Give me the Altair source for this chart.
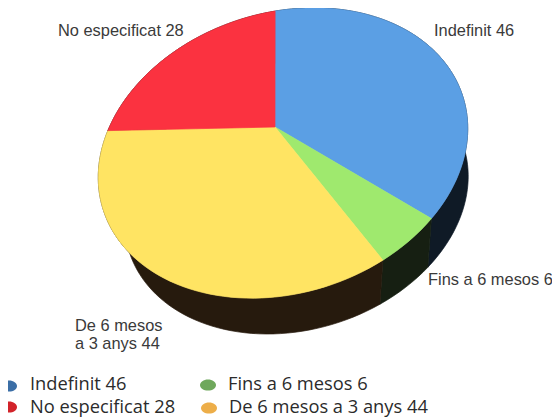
import math
import altair as alt
import pandas as pd

W, H = 544, 409

# chart values
categories = ["Indefinit", "Fins a 6 mesos", "De 6 mesos a 3 anys", "No especificat"]
values = [46, 6, 44, 28]
top_colors = ["#5b9fe4", "#9fe96e", "#ffe463", "#fb3240"]
side_colors = ["#0f1a26", "#161f12", "#261a0d", "#201010"]
legend_colors = ["#3b6ea6", "#6fa85c", "#edae49", "#d2232a"]

# perspective of the pie (page pixels minus the 8px margin)
cx, cy = 283 - 8, 153 - 8
m11, m21, m22 = 184.5, -24.4, 142.9
ex, ey, r = -0.2237, -0.976, 0.194
lx, ly, ls = 296.4 - 8, 199 - 8, 0.93
start = 12.7
lower_shift = 3.0


def rim(theta):
    zp, zq = math.cos(theta), math.sin(theta)
    d = 1 + r * zp
    wp = (zp + r) / d
    wq = zq * math.sqrt(1 - r * r) / d
    wx = wp * ex + wq * (-ey)
    wy = wp * ey + wq * ex
    dx = m11 * wx
    dy = m21 * wx + m22 * wy
    return (cx + dx, cy + dy), (lx + ls * dx, ly + ls * dy)


top_rows, side_rows = [], []
total = sum(values)
a = start
for cat, v, tc, sc in zip(categories, values, top_colors, side_colors):
    sweep = v / total * 360
    n = max(2, int(sweep / 2))
    angles = [math.radians(a + sweep * i / n) for i in range(n + 1)]
    upper = [rim(t)[0] for t in angles]
    lower = [rim(t + math.radians(lower_shift))[1] for t in angles]
    apex = (cx + m11 * (r * ex), cy + m21 * (r * ex) + m22 * (r * ey))
    poly = [apex] + upper + [apex]
    for i, (x, y) in enumerate(poly):
        top_rows.append(dict(cat=cat, i=i, x=x, y=y, c=tc))
    poly = upper + lower[::-1] + [upper[0]]
    for i, (x, y) in enumerate(poly):
        side_rows.append(dict(cat=cat, i=i, x=x, y=y, c=sc))
    a += sweep

xs = alt.X("x:Q", axis=None, scale=alt.Scale(domain=[0, W], range=[0, W]))
ys = alt.Y("y:Q", axis=None, scale=alt.Scale(domain=[0, H], range=[0, H]))


def faces(rows):
    return alt.Chart(pd.DataFrame(rows)).mark_line(strokeWidth=0.7, interpolate="linear").encode(
        x=xs, y=ys, order="i:Q", detail="cat:N",
        fill=alt.Fill("c:N", scale=None), stroke=alt.Stroke("c:N", scale=None),
    )


PIE_FONT = "Liberation Sans"
LEG_FONT = "Open Sans"
pie_labels = [
    ("Indefinit 46", 426, 23),
    ("Fins a 6 mesos 6", 420, 272),
    ("De 6 mesos", 67, 318),
    ("a 3 anys 44", 67, 336),
    ("No especificat 28", 50, 23),
]
layers = [faces(side_rows), faces(top_rows)]
for t, x, y in pie_labels:
    layers.append(alt.Chart().mark_text(text=t, x=x, y=y, align="left", baseline="middle",
                                        font=PIE_FONT, fontSize=16.4, color="#3a3a3a"))

legend = [
    ("Indefinit 46", 22, 377, 1, 378, legend_colors[0]),
    ("No especificat 28", 22, 400, 1, 399, legend_colors[3]),
    ("Fins a 6 mesos 6", 220, 377, 200, 377, legend_colors[1]),
    ("De 6 mesos a 3 anys 44", 221, 400, 201, 400, legend_colors[2]),
]
ELL = "M-1,0A1,0.7 0 1,1 1,0A1,0.7 0 1,1 -1,0Z"
for t, x, y, dx, dy, c in legend:
    layers.append(alt.Chart().mark_point(shape=ELL, size=256, filled=True, opacity=1, color=c, x=dx, y=dy))
    layers.append(alt.Chart().mark_text(text=t, x=x, y=y, align="left", baseline="middle",
                                        font=LEG_FONT, fontSize=18.3, color="#2b2b2b"))

chart = alt.layer(*layers).properties(
    width=W, height=H, padding=0,
    autosize=alt.AutoSizeParams(type="none"),
).configure_view(stroke=None)

chart.save("out.html", embed_options={"renderer": "svg", "actions": False})
